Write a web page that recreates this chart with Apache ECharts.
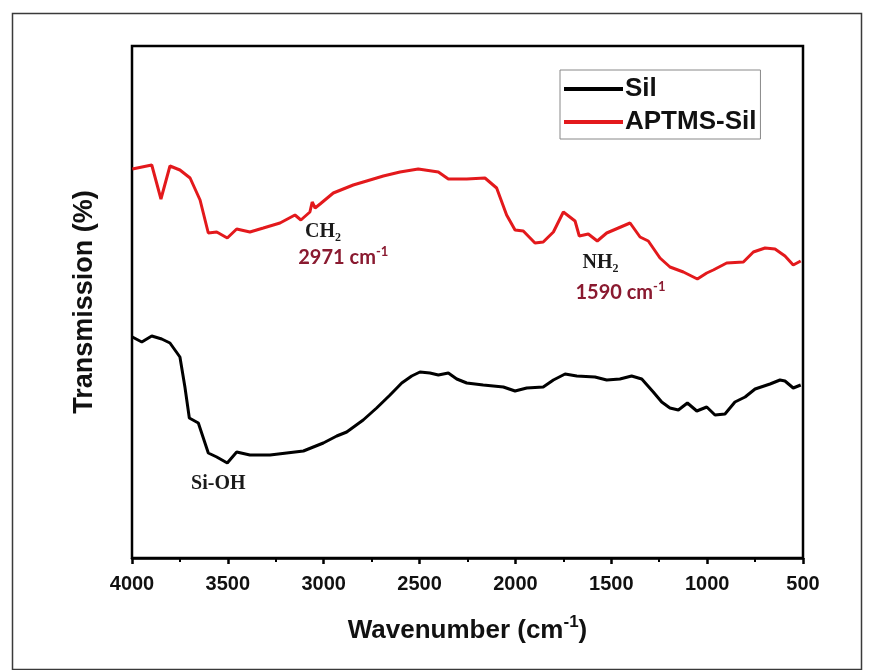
<!DOCTYPE html>
<html>
<head>
<meta charset="utf-8">
<script src="https://cdn.jsdelivr.net/npm/echarts@6/dist/echarts.min.js"></script>
<style>
html,body{margin:0;padding:0;background:#fff;}
#c{width:869px;height:670px;}
</style>
</head>
<body>
<div id="c"></div>
<script>
// Wavenumber (cm-1) and relative transmission (arbitrary units)
var silWavenumber = [3998,3949,3897,3845,3802,3750,3724,3701,3654,3602,3558,3503,3454,3385,3280,3193,3106,3054,3002,2932,2880,2794,2724,2654,2593,2541,2498,2446,2402,2350,2306,2254,2168,2063,2002,1941,1855,1802,1741,1680,1585,1524,1455,1394,1341,1281,1237,1194,1150,1103,1054,1002,959,907,855,802,750,672,620,594,551,512];
var silTransmission = [221,216,222,219,215,201,171,140,135,105,101,95,106,103,103,105,107,111,115,122,126,138,150,163,175,182,186,185,183,185,179,175,173,171,167,170,171,178,184,182,181,178,179,182,179,166,156,150,148,155,147,151,143,144,156,161,169,174,178,177,170,173];

var aptmsWavenumber = [3998,3897,3849,3802,3750,3697,3645,3602,3558,3503,3454,3385,3315,3228,3150,3119,3072,3060,3045,3019,2950,2846,2776,2689,2602,2507,2402,2350,2254,2159,2098,2046,2002,1959,1898,1855,1802,1750,1689,1667,1620,1573,1524,1463,1402,1350,1307,1246,1194,1124,1051,1002,968,898,811,759,698,646,594,551,512];
var aptmsTransmission = [389,393,359,392,388,380,358,325,326,320,329,326,330,335,343,338,346,356,350,354,365,373,377,382,386,389,386,379,379,380,370,343,328,327,315,316,326,346,337,322,324,317,325,330,335,321,317,300,291,286,279,285,288,295,296,306,310,309,302,293,297];

var seriesNames = ['Sil', 'APTMS-Sil'];
var xTicks = [4000, 3500, 3000, 2500, 2000, 1500, 1000, 500];

// Band annotations: [wavenumber, transmission, label]
var annotWavenumber = [3004, 2898, 1556, 1452, 3550];
var annotTransmission = [326, 300, 295, 265, 74];
var annotText = ['{m|CH₂}', '{r|2971 cm}{rs|-1}', '{m|NH₂}', '{r|1590 cm}{rs|-1}', '{m|Si-OH}'];

function pairs(xs, ys) { return xs.map(function (x, i) { return [x, ys[i]]; }); }

var chart = echarts.init(document.getElementById('c'), null, {renderer: 'canvas'});
chart.setOption({
  backgroundColor: '#fff',
  animation: false,
  graphic: [{
    type: 'rect', left: 10, top: 11, z: -10,
    shape: {width: 849, height: 656},
    style: {fill: 'none', stroke: '#3a3a3a', lineWidth: 1.5}
  }],
  grid: {
    left: 132, right: 66, top: 46, bottom: 112,
    show: true, borderColor: '#000', borderWidth: 2.5, backgroundColor: 'transparent'
  },
  legend: {
    orient: 'vertical', left: 560, top: 70,
    backgroundColor: '#fff', borderColor: '#888', borderWidth: 1,
    padding: [6, 4, 4, 4], itemGap: 7, itemWidth: 59, itemHeight: 4,
    icon: 'rect',
    textStyle: {fontFamily: 'Liberation Sans', fontWeight: 'bold', fontSize: 26, color: '#111', padding: [0, 0, 0, -3]},
    data: seriesNames
  },
  xAxis: {
    type: 'value', min: 500, max: 4000, interval: 500, inverse: true,
    name: 'Wavenumber (cm{s|-1})', nameLocation: 'middle', nameGap: 56,
    nameTextStyle: {
      fontFamily: 'Liberation Sans', fontWeight: 'bold', fontSize: 26, color: '#111',
      rich: {s: {fontFamily: 'Liberation Sans', fontWeight: 'bold', fontSize: 17, color: '#111', verticalAlign: 'top', lineHeight: 34}}
    },
    axisLine: {show: true, lineStyle: {color: '#000', width: 2.5}},
    axisTick: {show: true, inside: false, length: 6, lineStyle: {color: '#000', width: 2.5}},
    minorTick: {show: true, splitNumber: 2, length: 4, lineStyle: {color: '#000', width: 2}},
    splitLine: {show: false},
    axisLabel: {
      margin: 16, fontFamily: 'Liberation Sans', fontWeight: 'bold', fontSize: 20, color: '#111',
      customValues: xTicks,
      formatter: function (v) { return String(v); }
    }
  },
  yAxis: {
    type: 'value', min: 0, max: 512,
    name: 'Transmission (%)', nameLocation: 'middle', nameGap: 34, nameRotate: 90,
    nameTextStyle: {fontFamily: 'Liberation Sans', fontWeight: 'bold', fontSize: 27, color: '#111'},
    axisLine: {show: false}, axisTick: {show: false}, axisLabel: {show: false}, splitLine: {show: false}
  },
  series: [
    {
      name: seriesNames[0], type: 'line', data: pairs(silWavenumber, silTransmission),
      symbol: 'none', lineStyle: {color: '#000', width: 3}, itemStyle: {color: '#000'}
    },
    {
      name: seriesNames[1], type: 'line', data: pairs(aptmsWavenumber, aptmsTransmission),
      symbol: 'none', lineStyle: {color: '#e3191c', width: 3}, itemStyle: {color: '#e3191c'}
    },
    {
      name: 'bands', type: 'scatter', symbolSize: 1, silent: true,
      itemStyle: {color: 'transparent', opacity: 1},
      data: annotWavenumber.map(function (x, i) { return {value: [x, annotTransmission[i]], text: annotText[i]}; }),
      label: {
        show: true, position: 'inside', color: '#111', opacity: 1, textBorderWidth: 0,
        formatter: function (p) { return p.data.text; },
        rich: {
          m: {fontFamily: 'Liberation Serif', fontWeight: 'bold', fontSize: 20, color: '#1a1a1a', textBorderWidth: 0},
          r: {fontFamily: 'Lato', fontWeight: 'bold', fontSize: 20, color: '#8a1a30', lineHeight: 26, textBorderWidth: 0},
          rs: {fontFamily: 'Lato', fontWeight: 'bold', fontSize: 13, color: '#8a1a30', verticalAlign: 'top', lineHeight: 26, textBorderWidth: 0}
        }
      }
    }
  ]
});
</script>
</body>
</html>
